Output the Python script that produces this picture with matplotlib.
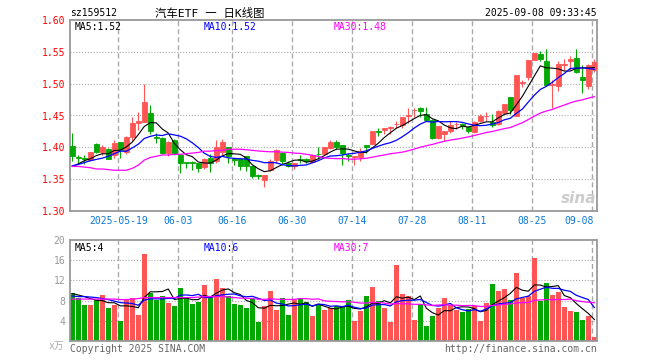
import numpy as np
import pandas as pd
import matplotlib
matplotlib.use("Agg")
import matplotlib.pyplot as plt

# daily k-line data, 2025-05-07 .. 2025-09-08 (trading days)
opens = [1.402, 1.385, 1.383, 1.380, 1.405, 1.393, 1.397, 1.388, 1.408, 1.392,
         1.416, 1.439, 1.440, 1.454, 1.416, 1.415, 1.391, 1.411, 1.388, 1.377,
         1.377, 1.375, 1.369, 1.383, 1.378, 1.392, 1.401, 1.381, 1.381, 1.386,
         1.371, 1.356, 1.349, 1.365, 1.380, 1.391, 1.376, 1.370, 1.381, 1.382,
         1.377, 1.390, 1.389, 1.399, 1.409, 1.403, 1.388, 1.385, 1.385, 1.403,
         1.405, 1.425, 1.428, 1.431, 1.436, 1.435, 1.450, 1.458, 1.461, 1.452,
         1.443, 1.415, 1.421, 1.426, 1.436, 1.436, 1.432, 1.424, 1.441, 1.449,
         1.440, 1.436, 1.454, 1.479, 1.449, 1.501, 1.511, 1.537, 1.547, 1.535,
         1.498, 1.496, 1.530, 1.535, 1.540, 1.510, 1.496, 1.522]
highs = [1.422, 1.388, 1.388, 1.393, 1.407, 1.403, 1.399, 1.412, 1.409, 1.418,
         1.447, 1.456, 1.500, 1.466, 1.423, 1.417, 1.410, 1.413, 1.389, 1.377,
         1.378, 1.375, 1.383, 1.389, 1.411, 1.413, 1.401, 1.384, 1.383, 1.387,
         1.372, 1.358, 1.357, 1.382, 1.397, 1.393, 1.378, 1.375, 1.388, 1.384,
         1.390, 1.400, 1.401, 1.411, 1.411, 1.404, 1.391, 1.386, 1.399, 1.404,
         1.426, 1.430, 1.431, 1.434, 1.442, 1.448, 1.462, 1.461, 1.463, 1.463,
         1.445, 1.434, 1.426, 1.441, 1.440, 1.439, 1.433, 1.442, 1.452, 1.456,
         1.453, 1.458, 1.468, 1.479, 1.514, 1.506, 1.537, 1.548, 1.552, 1.555,
         1.506, 1.535, 1.539, 1.544, 1.555, 1.530, 1.531, 1.539]
lows = [1.378, 1.376, 1.374, 1.378, 1.391, 1.388, 1.381, 1.384, 1.384, 1.390,
        1.410, 1.427, 1.440, 1.421, 1.407, 1.390, 1.387, 1.388, 1.360, 1.368,
        1.364, 1.362, 1.366, 1.362, 1.376, 1.387, 1.376, 1.373, 1.364, 1.363,
        1.352, 1.350, 1.337, 1.363, 1.376, 1.372, 1.369, 1.366, 1.376, 1.375,
        1.376, 1.382, 1.388, 1.397, 1.397, 1.373, 1.379, 1.373, 1.378, 1.391,
        1.405, 1.418, 1.421, 1.421, 1.431, 1.431, 1.439, 1.448, 1.448, 1.441,
        1.413, 1.413, 1.410, 1.423, 1.429, 1.429, 1.423, 1.423, 1.440, 1.442,
        1.432, 1.435, 1.452, 1.452, 1.449, 1.494, 1.506, 1.537, 1.535, 1.496,
        1.462, 1.488, 1.522, 1.522, 1.517, 1.485, 1.491, 1.519]
closes = [1.386, 1.383, 1.381, 1.393, 1.392, 1.401, 1.382, 1.407, 1.396, 1.417,
          1.439, 1.441, 1.471, 1.426, 1.415, 1.391, 1.409, 1.390, 1.376, 1.376,
          1.376, 1.367, 1.382, 1.375, 1.400, 1.408, 1.386, 1.380, 1.371, 1.371,
          1.355, 1.355, 1.357, 1.378, 1.396, 1.379, 1.371, 1.375, 1.380, 1.378,
          1.388, 1.389, 1.400, 1.408, 1.400, 1.391, 1.387, 1.386, 1.395, 1.401,
          1.426, 1.424, 1.431, 1.432, 1.437, 1.447, 1.451, 1.459, 1.457, 1.443,
          1.415, 1.434, 1.426, 1.435, 1.437, 1.435, 1.426, 1.440, 1.449, 1.450,
          1.435, 1.457, 1.468, 1.459, 1.514, 1.502, 1.537, 1.548, 1.539, 1.498,
          1.500, 1.531, 1.531, 1.539, 1.519, 1.505, 1.529, 1.534]
# volume, 万
volumes = [9.5, 8.6, 7.1, 7.1, 8.1, 9.1, 6.5, 7.1, 4.0, 8.1,
           8.6, 5.1, 17.3, 9.6, 8.1, 8.9, 7.6, 6.9, 10.5, 8.6,
           7.3, 7.7, 11.1, 8.9, 12.3, 10.4, 8.9, 7.3, 7.1, 6.5,
           8.3, 3.7, 6.9, 9.9, 6.1, 8.5, 5.1, 8.1, 8.5, 7.7,
           4.9, 7.3, 6.1, 6.5, 6.9, 6.9, 8.1, 3.9, 5.9, 8.9,
           10.7, 7.9, 6.5, 3.7, 15.0, 9.3, 8.9, 4.1, 7.3, 2.9,
           4.9, 6.5, 8.5, 7.1, 6.1, 5.7, 6.3, 6.9, 3.9, 7.5,
           11.3, 9.9, 10.3, 8.1, 13.5, 8.5, 8.9, 16.5, 8.0, 11.5,
           9.1, 9.7, 6.7, 5.9, 5.7, 4.1, 4.9, 0.7]

# moving-average values before enough visible days exist
ma5_head = [1.370, 1.374, 1.379, 1.382]
ma10_head = [1.371, 1.373, 1.376, 1.379, 1.381, 1.383, 1.386, 1.390, 1.394]
ma30_head = [1.370, 1.370, 1.369, 1.368, 1.366, 1.366, 1.365, 1.364, 1.364, 1.364,
             1.367, 1.372, 1.380, 1.384, 1.386, 1.388, 1.388, 1.389, 1.389, 1.390,
             1.391, 1.392, 1.394, 1.394, 1.395, 1.395, 1.397, 1.397, 1.397]
vma5_head = [9.4, 9.1, 8.8, 8.4]
vma10_head = [8.9, 8.8, 8.8, 8.7, 8.6, 8.4, 8.2, 7.9, 7.6]
vma30_head = [8.3, 8.3, 8.3, 8.3, 8.3, 8.3, 8.3, 8.3, 8.2, 8.2,
              8.3, 8.4, 8.6, 8.6, 8.6, 8.6, 8.6, 8.6, 8.6, 8.6,
              8.6, 8.7, 8.8, 8.8, 8.8, 8.8, 8.7, 8.6, 8.5]

tick_days = ["2025-05-19", "2025-06-03", "2025-06-16", "2025-06-30", "2025-07-14",
             "2025-07-28", "2025-08-11", "2025-08-25", "2025-09-08"]
price_ticks = [1.30, 1.35, 1.40, 1.45, 1.50, 1.55, 1.60]
vol_ticks = [4, 8, 12, 16, 20]

dates = pd.bdate_range("2025-05-07", "2025-09-08", freq="C", holidays=["2025-06-02"])

RED = "#ff5555"
GREEN = "#00a800"
MONO = ["DejaVu Sans Mono", "Noto Sans CJK SC"]
GRID = "#aaaaaa"


def with_head(values, win, head):
    out = pd.Series(values).rolling(win).mean().values
    out[:win - 1] = head
    return out


o = np.array(opens); h = np.array(highs); l = np.array(lows); c = np.array(closes)
v = np.array(volumes)
x = np.arange(len(c))
cols = np.where(c >= o, RED, GREEN)

fig = plt.figure(figsize=(6.6, 3.6), dpi=100)
ax = fig.add_axes([70 / 660, 1 - 211 / 360, 527 / 660, 191 / 360])
axv = fig.add_axes([70 / 660, 1 - 341 / 360, 527 / 660, 101 / 360])

tick_idx = [dates.get_loc(pd.Timestamp(d)) for d in tick_days]

for a in (ax, axv):
    a.set_xlim(-0.38, 87.45)
    for t in tick_idx:
        a.axvline(t - 0.33, color=GRID, lw=1, ls=(0, (3.6, 2.2)), zorder=0)
    for s in a.spines.values():
        s.set_color("#999999")
        s.set_linewidth(1.3)
    a.tick_params(length=0, labelsize=7)
    a.set_xticks([])

# price panel
ax.set_ylim(1.30, 1.60)
for p in price_ticks[1:-1]:
    ax.axhline(p, color=GRID, lw=0.8, ls=(0, (1, 1.6)), zorder=0)
ax.set_yticks(price_ticks)
ax.set_yticklabels(["%.2f" % p for p in price_ticks], color="#ff0000", family=MONO)
ax.vlines(x, l, h, color=cols, lw=0.8, zorder=2)
ax.bar(x, np.abs(c - o), bottom=np.minimum(o, c), width=0.78, color=cols,
       edgecolor=cols, lw=0.6, zorder=3)
ax.plot(x, with_head(c, 5, ma5_head), color="black", lw=0.8, zorder=4)
ax.plot(x, with_head(c, 10, ma10_head), color="#0000ff", lw=0.9, zorder=4)
ax.plot(x, with_head(c, 30, ma30_head), color="#ff00ff", lw=0.9, zorder=4)

for t in tick_idx:
    lab = dates[t].strftime("%Y-%m-%d") if t == tick_idx[0] else dates[t].strftime("%m-%d")
    ha = "right" if t == tick_idx[-1] else "center"
    ax.text(t - 0.33 if ha == "center" else t - 0.1, 1.30 - 0.016, lab, ha=ha, va="center",
            fontsize=7, color="#0a78d6", family=MONO)

# volume panel
axv.set_ylim(0, 20)
for q in vol_ticks[:-1]:
    axv.axhline(q, color=GRID, lw=0.8, ls=(0, (1, 1.6)), zorder=0)
axv.set_yticks(vol_ticks)
axv.set_yticklabels([str(q) for q in vol_ticks], color="#999999", family=MONO)
axv.bar(x, v, width=0.78, color=cols, lw=0, zorder=2)
axv.plot(x, with_head(v, 5, vma5_head), color="black", lw=0.8, zorder=4)
axv.plot(x, with_head(v, 10, vma10_head), color="#0000ff", lw=0.9, zorder=4)
axv.plot(x, with_head(v, 30, vma30_head), color="#ff00ff", lw=0.9, zorder=4)


def ftext(px, py, s, **kw):
    kw.setdefault("fontsize", 7)
    kw.setdefault("family", MONO)
    fig.text(px / 660, 1 - py / 360, s, va="center", **kw)


ftext(70, 13, "sz159512")
ftext(210, 13, "汽车ETF 一 日K线图", ha="center", fontsize=8.2)
ftext(597, 13, "2025-09-08 09:33:45", ha="right")
ftext(75, 27, "MA5:1.52")
ftext(204, 27, "MA10:1.52", color="#0000ff")
ftext(334, 27, "MA30:1.48", color="#ff00ff")
ftext(75, 248, "MA5:4")
ftext(204, 248, "MA10:6", color="#0000ff")
ftext(334, 248, "MA30:7", color="#ff00ff")
ftext(64, 346, "x万", ha="right", color="#aaaaaa")
ftext(70, 349, "Copyright 2025 SINA.COM", color="#666666")
ftext(597, 349, "http://finance.sina.com.cn", ha="right", color="#666666")
ftext(596, 198, "sina", ha="right", fontsize=11, color="#cccccc",
      family="DejaVu Sans", fontweight="bold", fontstyle="italic")

fig.savefig("out.png", dpi=100)
